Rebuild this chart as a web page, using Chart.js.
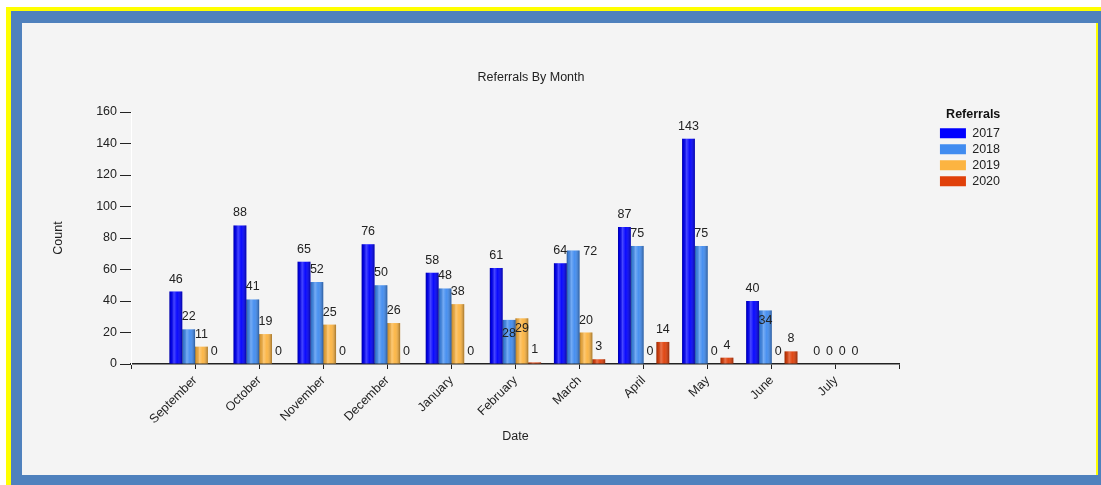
<!DOCTYPE html>
<html>
<head>
<meta charset="utf-8">
<script src="https://cdn.jsdelivr.net/npm/chart.js@4"></script>
<style>
  html, body { margin: 0; padding: 0; background: #fff; }
  body { width: 1101px; height: 485px; position: relative; overflow: hidden; }
  .frame-yellow { position: absolute; left: 6px; top: 7px; right: 0; bottom: 0; background: #ffff00; }
  .frame-blue { position: absolute; left: 11px; top: 11px; right: 0; bottom: 0; background: #4f81bd; }
  .edge-yellow { position: absolute; left: 1096px; top: 23px; width: 2px; height: 452px; background: #ffff00; }
  .panel { position: absolute; left: 22px; top: 23px; width: 1074px; height: 452px; background: #f4f4f4; }
</style>
</head>
<body>
<div class="frame-yellow"></div>
<div class="frame-blue"></div>
<div class="edge-yellow"></div>
<div class="panel"><canvas id="chart" width="1074" height="452"></canvas></div>
<script>
const months = ["September", "October", "November", "December", "January", "February", "March", "April", "May", "June", "July"];
const years = ["2017", "2018", "2019", "2020"];
const counts2017 = [46, 88, 65, 76, 58, 61, 64, 87, 143, 40, 0];
const counts2018 = [22, 41, 52, 50, 48, 28, 72, 75, 75, 34, 0];
const counts2019 = [11, 19, 25, 26, 38, 29, 20, 0, 0, 0, 0];
const counts2020 = [0, 0, 0, 0, 0, 1, 3, 14, 4, 8, 0];
const yMax = 160;
const yStep = 20;

const colors = ["#0000ff", "#418cf0", "#fcb441", "#e0400a"];
const FONT = "Arial, 'Liberation Sans', sans-serif";

// the original moved a few crowded labels aside (year:month -> dx, dy)
const labelNudge = {
    "2018:March": [17, 13],
    "2018:June": [0, 23],
    "2018:February": [0, 26],
    "2019:February": [0, 23]
};

// empty slot at each end so the axis runs 0..12 like the original
const labels = [""].concat(months, [""]);
const pad = arr => [null].concat(arr, [null]);

const datasets = [counts2017, counts2018, counts2019, counts2020].map((vals, i) => ({
    label: years[i],
    data: pad(vals),
    backgroundColor: colors[i],
    borderWidth: 0,
    xAxisID: "x",
    yAxisID: "y"
}));

// cylinder-ish shading over each bar
const shadePlugin = {
    id: "shade",
    afterDatasetsDraw(chart) {
        const ctx = chart.ctx;
        chart.data.datasets.forEach((ds, di) => {
            const meta = chart.getDatasetMeta(di);
            meta.data.forEach((el, i) => {
                if (ds.data[i] == null) return;
                const p = el.getProps(["x", "y", "base", "width"], true);
                const h = p.base - p.y;
                if (h <= 0) return;
                const x0 = p.x - p.width / 2;
                const g = ctx.createLinearGradient(x0, 0, x0 + p.width, 0);
                g.addColorStop(0, "rgba(0,0,0,0.38)");
                g.addColorStop(0.12, "rgba(0,0,0,0.1)");
                g.addColorStop(0.35, "rgba(255,255,255,0.28)");
                g.addColorStop(0.6, "rgba(255,255,255,0.04)");
                g.addColorStop(1, "rgba(0,0,0,0.35)");
                ctx.save();
                ctx.fillStyle = g;
                ctx.fillRect(x0, p.y, p.width, h);
                ctx.restore();
            });
        });
    }
};

// value labels above the bars
const valuePlugin = {
    id: "values",
    afterDatasetsDraw(chart) {
        const ctx = chart.ctx;
        ctx.save();
        ctx.font = "12.5px " + FONT;
        ctx.fillStyle = "#222";
        ctx.textAlign = "center";
        ctx.textBaseline = "alphabetic";
        chart.data.datasets.forEach((ds, di) => {
            const meta = chart.getDatasetMeta(di);
            meta.data.forEach((el, i) => {
                const v = ds.data[i];
                if (v == null) return;
                const p = el.getProps(["x", "y"], true);
                const n = labelNudge[ds.label + ":" + labels[i]] || [0, 0];
                ctx.fillText(String(v), p.x + n[0], p.y - 9 + n[1]);
            });
        });
        ctx.restore();
    }
};

new Chart(document.getElementById("chart"), {
    type: "bar",
    data: { labels: labels, datasets: datasets },
    options: {
        responsive: false,
        animation: false,
        devicePixelRatio: 1,
        layout: { padding: { left: 30, right: 86, top: 0, bottom: 25 } },
        datasets: { bar: { categoryPercentage: 0.8, barPercentage: 1 } },
        plugins: {
            tooltip: { enabled: false },
            title: {
                display: true,
                text: "Referrals By Month",
                color: "#222",
                font: { family: FONT, size: 12.5, weight: "normal", lineHeight: 1.2 },
                padding: { top: 47.5, bottom: 26.5 }
            },
            legend: {
                position: "right",
                align: "start",
                title: {
                    display: true,
                    text: "Referrals",
                    color: "#111",
                    font: { family: FONT, size: 12.5, weight: "bold", lineHeight: 1.2 },
                    padding: { top: 85.5, bottom: 0 }
                },
                labels: {
                    boxWidth: 26,
                    boxHeight: 10,
                    padding: 3.5,
                    color: "#222",
                    font: { family: FONT, size: 12.5 }
                }
            }
        },
        scales: {
            x: {
                type: "category",
                offset: false,
                grid: { display: true, drawOnChartArea: false, drawTicks: true, tickLength: 5, color: "#222", offset: false },
                border: { display: true, color: "#222", width: 1.5 },
                ticks: {
                    color: "#222",
                    font: { family: FONT, size: 12.5 },
                    minRotation: 45,
                    maxRotation: 45,
                    autoSkip: false,
                    padding: 4
                },
                title: {
                    display: true,
                    text: "Date",
                    color: "#222",
                    font: { family: FONT, size: 12.5, lineHeight: 1.2 },
                    padding: { top: 0, bottom: 5.5 }
                },
                afterFit(s) { s.height = 86; }
            },
            y: {
                min: 0,
                max: yMax,
                grid: { display: true, drawOnChartArea: false, drawTicks: true, tickLength: 11, color: "#222" },
                border: { display: true, color: "#ffffff", width: 1 },
                ticks: {
                    stepSize: yStep,
                    color: "#222",
                    font: { family: FONT, size: 12.5 },
                    padding: 3
                },
                title: {
                    display: true,
                    text: "Count",
                    color: "#222",
                    font: { family: FONT, size: 12.5, lineHeight: 1 },
                    padding: { top: 0, bottom: 0 }
                },
                afterFit(s) { s.width = 79; }
            },
            spacer: {
                type: "linear",
                position: "right",
                display: true,
                grid: { display: false },
                border: { display: false },
                ticks: { display: false },
                afterFit(s) { s.width = 36.5; }
            }
        }
    },
    plugins: [shadePlugin, valuePlugin]
});
</script>
</body>
</html>
